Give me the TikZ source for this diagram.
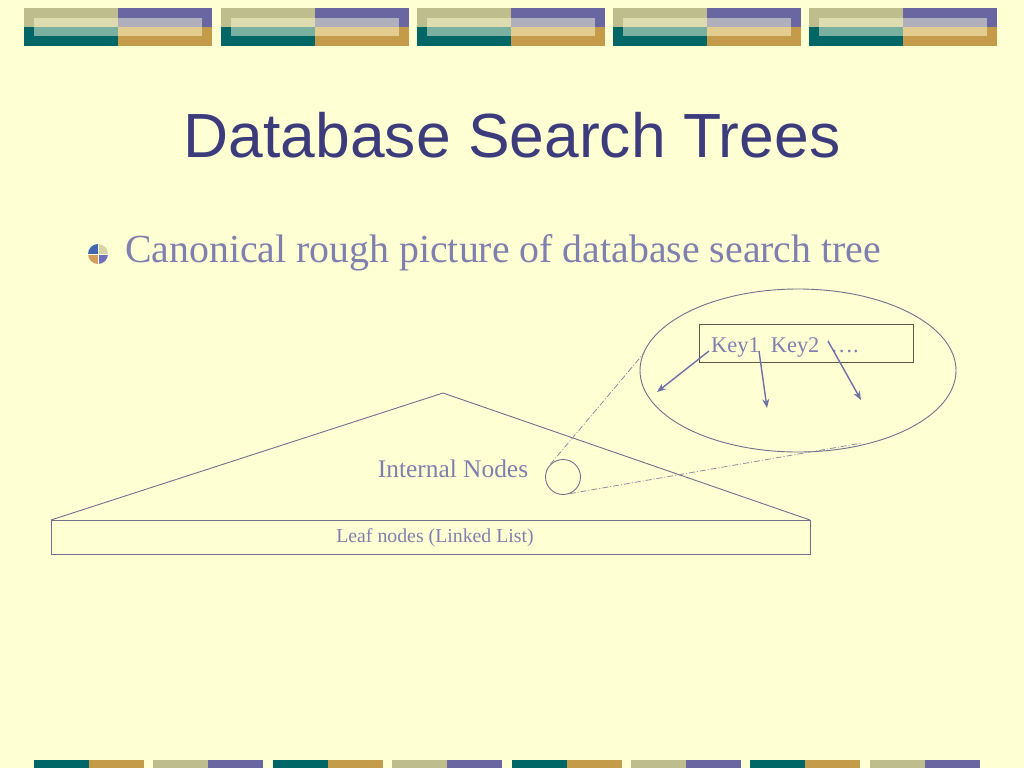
\documentclass[tikz,border=0pt]{standalone}
\usepackage{fontspec}
\setmainfont{Liberation Serif}
\newfontfamily\titlefont{Liberation Sans}
\usetikzlibrary{arrows.meta,shapes.geometric}
\definecolor{bg}{HTML}{FFFFD4}
\definecolor{khaki}{HTML}{BDBD8D}
\definecolor{purp}{HTML}{6A66A2}
\definecolor{teal}{HTML}{006666}
\definecolor{gold}{HTML}{C49B48}
\definecolor{khakiL}{HTML}{DCDCB0}
\definecolor{purpL}{HTML}{B0B0BC}
\definecolor{tealL}{HTML}{7AB0A0}
\definecolor{goldL}{HTML}{E2CC90}
\definecolor{titlec}{HTML}{3C3C7C}
\definecolor{txt}{HTML}{8080B0}
\definecolor{linec}{HTML}{70708E}
\definecolor{arrc}{HTML}{7070A8}
\definecolor{dashc}{HTML}{8C8CA4}
\definecolor{keyb}{HTML}{5A5A48}
\definecolor{bulB}{HTML}{3F66AE}
\definecolor{bulP}{HTML}{D4D4A4}
\definecolor{bulT}{HTML}{D29E5E}
\definecolor{bulV}{HTML}{6E6EBE}
\tikzset{
  outline/.style={draw=linec, line width=0.9pt},
  keyarrow/.style={draw=arrc, line width=1.4pt, -{Stealth[length=9pt,width=7pt]}},
  zoomline/.style={draw=dashc, line width=0.8pt, dash pattern=on 6pt off 2pt on 1pt off 2pt},
  lbl/.style={text=txt, inner sep=0pt}
}
\begin{document}
\begin{tikzpicture}[x=1pt,y=-1pt]
\fill[bg] (0,0) rectangle (1024,768);
\useasboundingbox (0,0) rectangle (1024,768);
% top banner
\foreach \x in {24,220.5,417,613,809}{
  \fill[khaki] (\x,8) rectangle (\x+94,27);
  \fill[purp] (\x+94,8) rectangle (\x+188,27);
  \fill[teal] (\x,27) rectangle (\x+94,46);
  \fill[gold] (\x+94,27) rectangle (\x+188,46);
  \fill[khakiL] (\x+10,18) rectangle (\x+94,27);
  \fill[purpL] (\x+94,18) rectangle (\x+178,27);
  \fill[tealL] (\x+10,27) rectangle (\x+94,36);
  \fill[goldL] (\x+94,27) rectangle (\x+178,36);
}
% bottom bar
\foreach \i in {0,...,7}{
  \pgfmathsetmacro{\bx}{34+119.4*\i}
  \ifodd\i
    \fill[khaki] (\bx,760) rectangle (\bx+55,768);
    \fill[purp] (\bx+55,760) rectangle (\bx+110,768);
  \else
    \fill[teal] (\bx,760) rectangle (\bx+55,768);
    \fill[gold] (\bx+55,760) rectangle (\bx+110,768);
  \fi
}
% title
\node[text=titlec, inner sep=0pt] (title) at (512,135) {\titlefont\fontsize{62.4}{70}\selectfont Database Search Trees};
% bullet
\begin{scope}
  \clip (98,254) circle[radius=10];
  \fill[bulB] (88,244) rectangle (98,254);
  \fill[bulP] (98,244) rectangle (108,254);
  \fill[bulT] (88,254) rectangle (98,264);
  \fill[bulV] (98,254) rectangle (108,264);
  \draw[bg, line width=0.8pt] (88,254) -- (108,254) (98,244) -- (98,264);
\end{scope}
\node[lbl, anchor=west] (bullet) at (125,253) {\fontsize{39.8}{44}\selectfont Canonical rough picture of database search tree};
% tree
\coordinate (apex) at (443,393);
\coordinate (bl) at (51,520);
\coordinate (br) at (810,520);
\draw[outline] (bl) -- (apex) -- (br);
\node[outline, fill=bg, minimum width=759pt, minimum height=34pt, inner sep=0pt, anchor=north west] (leaf) at (51,520) {};
\node[lbl] (leaftxt) at (435,538) {\fontsize{19.8}{22}\selectfont Leaf nodes (Linked List)};
\node[lbl] (internal) at (453,469) {\fontsize{25.4}{28}\selectfont Internal Nodes};
\node[outline, circle, minimum size=35pt, inner sep=0pt] (small) at (563,477) {};
% magnified node
\node[draw=linec, line width=0.9pt, ellipse, minimum width=316pt, minimum height=163pt, inner sep=0pt] (big) at (798,370.5) {};
\node[draw=keyb, line width=1.4pt, minimum width=214pt, minimum height=38pt, inner sep=0pt, anchor=north west] (keybox) at (699,324) {};
\node[lbl, anchor=base west] (keys) at (711,352) {\fontsize{22.4}{24}\selectfont Key1\ \ Key2\ \ ….};
\coordinate (a1s) at (709,351); \coordinate (a1e) at (657,392);
\coordinate (a2s) at (759,351); \coordinate (a2e) at (767,408);
\coordinate (a3s) at (828,341); \coordinate (a3e) at (861,400);
\draw[keyarrow] (a1s) -- (a1e);
\draw[keyarrow] (a2s) -- (a2e);
\draw[keyarrow] (a3s) -- (a3e);
\coordinate (e1) at (644,353);
\coordinate (e2) at (862,443);
\draw[zoomline] (small.135) -- (e1);
\draw[zoomline] (small.-68) -- (e2);
\end{tikzpicture}
\end{document}
